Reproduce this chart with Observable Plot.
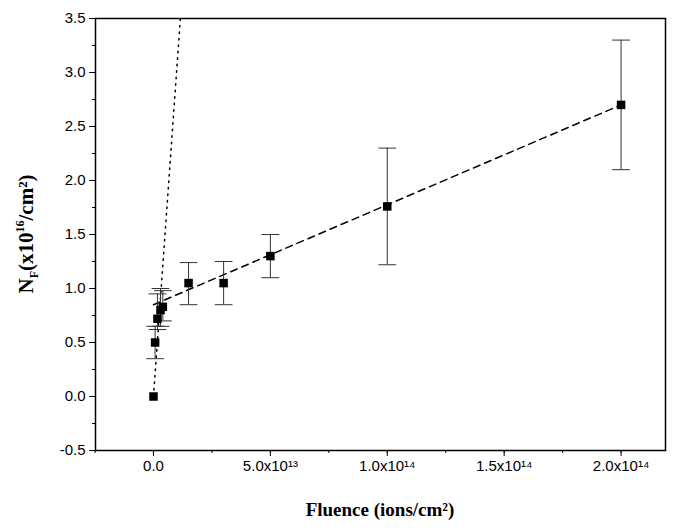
<!DOCTYPE html>
<html><head><meta charset="utf-8">
<script src="https://cdn.jsdelivr.net/npm/d3@7"></script>
<script src="https://cdn.jsdelivr.net/npm/@observablehq/plot@0.6"></script>
<style>body{margin:0;background:#fff}</style>
</head><body><div id="chart"></div>
<script>
const fluence = [0, 0.7e12, 1.7e12, 3e12, 4e12, 1.5e13, 3e13, 5e13, 1e14, 2e14];
const nf      = [0, 0.5, 0.72, 0.8, 0.83, 1.05, 1.05, 1.3, 1.76, 2.7];
const errLo   = [0, 0.35, 0.62, 0.65, 0.7, 0.85, 0.85, 1.1, 1.22, 2.1];
const errHi   = [0, 0.65, 0.95, 1.0, 0.98, 1.24, 1.25, 1.5, 2.3, 3.3];
const dashedFit = {x: [0, 2e14], y: [0.85, 2.7]};
const dottedFit = {x: [0, 1.15e13], y: [0, 3.5]};
const xTicks = [0, 5e13, 1e14, 1.5e14, 2e14];
const xTickLabels = ["0.0", "5.0x10¹³", "1.0x10¹⁴", "1.5x10¹⁴", "2.0x10¹⁴"];
const yTicks = d3.range(-0.5, 3.51, 0.5);

const pts = fluence.map((x, i) => ({x, y: nf[i], lo: errLo[i], hi: errHi[i]}));
const bars = pts.filter(d => d.hi > d.lo);
const capSym = {draw(ctx, size) { const r = Math.sqrt(size); ctx.moveTo(-r, 0); ctx.lineTo(r, 0); }};
const toRows = f => f.x.map((x, i) => ({x, y: f.y[i]}));
const blank = () => "";

const chart = Plot.plot({
  width: 676, height: 530,
  marginLeft: 95, marginRight: 11, marginTop: 18, marginBottom: 80,
  style: {fontFamily: "Liberation Sans, Arial, sans-serif", fontSize: "15px", color: "#000"},
  x: {domain: [-2.48e13, 2.19e14], label: null},
  y: {domain: [-0.5, 3.5], label: null},
  marks: [
    Plot.frame({stroke: "#000", strokeWidth: 1.5}),
    Plot.axisX({ticks: xTicks, tickFormat: (d, i) => xTickLabels[i], tickSize: 6, tickPadding: 4, fontSize: 15}),
    Plot.axisX({ticks: d3.range(-2.5e13, 2.2e14, 2.5e13), tickFormat: blank, tickSize: 3}),
    Plot.axisY({ticks: yTicks, tickFormat: d => d3.format(".1f")(d).replace("−", "-"), tickSize: 6, tickPadding: 4, fontSize: 15}),
    Plot.axisY({ticks: d3.range(-0.5, 3.5, 0.25), tickFormat: blank, tickSize: 3}),
    Plot.line(toRows(dottedFit), {x: "x", y: "y", stroke: "#000", strokeWidth: 1.5, strokeDasharray: "1.5,5", clip: true}),
    Plot.line(toRows(dashedFit), {x: "x", y: "y", stroke: "#000", strokeWidth: 1.5, strokeDasharray: "7,5"}),
    Plot.ruleX(bars, {x: "x", y1: "lo", y2: "hi", stroke: "#333", strokeWidth: 1}),
    Plot.dot(bars, {x: "x", y: "lo", symbol: capSym, r: 5, stroke: "#333", strokeWidth: 1}),
    Plot.dot(bars, {x: "x", y: "hi", symbol: capSym, r: 5, stroke: "#333", strokeWidth: 1}),
    Plot.dot(pts, {x: "x", y: "y", symbol: "square", r: 4.8, fill: "#000", stroke: "none"})
  ]
});

const svg = d3.select(chart);
svg.append("text").attr("x", 380).attr("y", 516).attr("text-anchor", "middle")
  .attr("font-family", "Liberation Serif, Times New Roman, serif").attr("font-weight", "bold").attr("font-size", 19)
  .text("Fluence (ions/cm²)");
const yl = svg.append("text").attr("transform", "translate(33,234) rotate(-90)").attr("text-anchor", "middle")
  .attr("font-family", "Liberation Serif, Times New Roman, serif").attr("font-weight", "bold").attr("font-size", 21);
yl.append("tspan").text("N");
yl.append("tspan").attr("font-size", 12).attr("dy", 5).text("F");
yl.append("tspan").attr("dy", -5).text("(x10");
yl.append("tspan").attr("font-size", 12).attr("dy", -9).text("16");
yl.append("tspan").attr("dy", 9).text("/cm²)");
d3.select("#chart").append(() => chart);
</script>
</body></html>
